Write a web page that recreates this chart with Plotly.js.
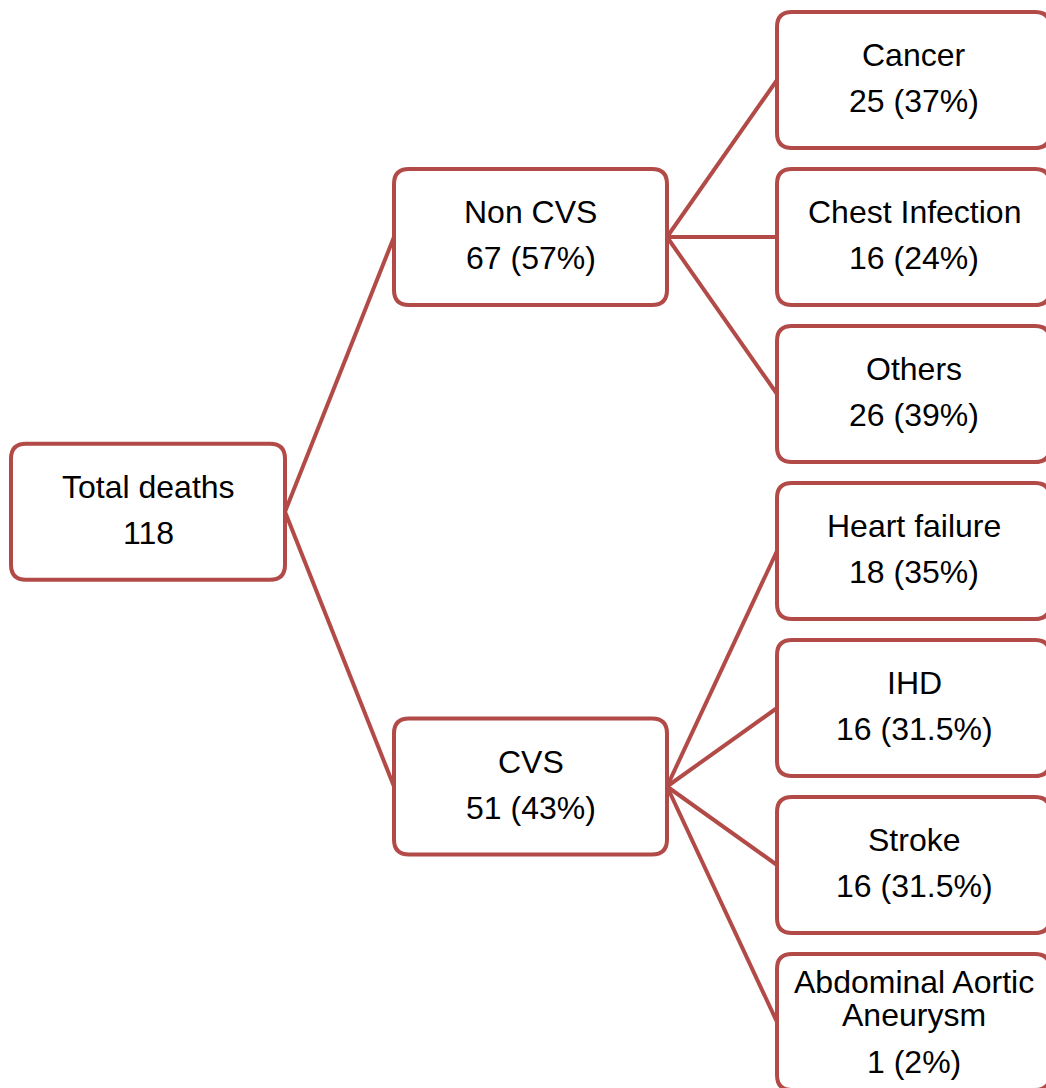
<!DOCTYPE html>
<html>
<head>
<meta charset="utf-8">
<script src="https://cdn.plot.ly/plotly-3.0.1.min.js"></script>
<style>html,body{margin:0;padding:0;background:#fff;}#chart{width:1046px;height:1088px;}</style>
</head>
<body>
<div id="chart"></div>
<script>
// ---- data ----
const rootLabel = "Total deaths";
const rootCount = 118;
const groupLabels = ["Non CVS", "CVS"];
const groupCounts = [67, 51];
const groupPcts = ["57%", "43%"];
const causeLabels = ["Cancer", "Chest Infection", "Others", "Heart failure", "IHD", "Stroke", "Abdominal Aortic<br>Aneurysm"];
const causeCounts = [25, 16, 26, 18, 16, 16, 1];
const causePcts = ["37%", "24%", "39%", "35%", "31.5%", "31.5%", "2%"];
const causeParent = [0, 0, 0, 1, 1, 1, 1];

// ---- layout geometry ----
const W = 1046, H = 1088;
const colX = [[11, 285], [394, 667], [777, 1050]];
const boxH = 136;
const leafTop = 80, leafPitch = 157;
const radius = 15;
const red = "#B24B48";
const fontSize = 32;
const upOff = -25, downOff = 21, wrapGap = 33;

const leafY = causeLabels.map((_, i) => leafTop + i * leafPitch);
const groupY = groupLabels.map((_, g) => {
  const ys = leafY.filter((_, i) => causeParent[i] === g);
  return ys.reduce((a, b) => a + b, 0) / ys.length;
});
const rootY = groupY.reduce((a, b) => a + b, 0) / groupY.length;

function rr(x0, y0, x1, y1, r) {
  return `M${x0 + r},${y0} L${x1 - r},${y0} Q${x1},${y0} ${x1},${y0 + r} L${x1},${y1 - r} Q${x1},${y1} ${x1 - r},${y1} L${x0 + r},${y1} Q${x0},${y1} ${x0},${y1 - r} L${x0},${y0 + r} Q${x0},${y0} ${x0 + r},${y0} Z`;
}

const shapes = [];
const annotations = [];
function addNode(level, cy, lines) {
  const [x0, x1] = colX[level];
  shapes.push({type: "path", xref: "x", yref: "y", path: rr(x0, cy - boxH / 2, x1, cy + boxH / 2, radius),
    line: {color: red, width: 4}, fillcolor: "rgba(255,255,255,0)", layer: "above"});
  const cx = (x0 + x1) / 2 + (level === 2 ? 0.5 : 0);
  const labelParts = lines[0].split("<br>");
  const n = labelParts.length;
  let ys = [];
  if (n === 1) { ys = [cy + upOff, cy + downOff]; }
  else {
    const first = cy - 40;
    for (let k = 0; k < n; k++) ys.push(first + k * wrapGap);
    ys.push(ys[n - 1] + 47);
  }
  const texts = labelParts.concat([lines[1]]);
  texts.forEach((t, k) => {
    annotations.push({x: cx, y: ys[k], xref: "x", yref: "y", text: t, showarrow: false,
      xanchor: "center", yanchor: "middle",
      font: {family: "Liberation Sans, Arial, sans-serif", size: fontSize, color: "#000"}});
  });
}

addNode(0, rootY, [rootLabel, String(rootCount)]);
groupLabels.forEach((g, i) => addNode(1, groupY[i], [g, `${groupCounts[i]} (${groupPcts[i]})`]));
causeLabels.forEach((c, i) => addNode(2, leafY[i], [c, `${causeCounts[i]} (${causePcts[i]})`]));

// connectors
const lx = [], ly = [];
groupY.forEach(gy => { lx.push(colX[0][1], colX[1][0], null); ly.push(rootY, gy, null); });
leafY.forEach((y, i) => { lx.push(colX[1][1], colX[2][0], null); ly.push(groupY[causeParent[i]], y, null); });

const data = [{x: lx, y: ly, type: "scatter", mode: "lines", line: {color: red, width: 4}, hoverinfo: "skip", showlegend: false}];

const layout = {
  width: W, height: H,
  margin: {l: 0, r: 0, t: 0, b: 0},
  paper_bgcolor: "#fff", plot_bgcolor: "#fff",
  xaxis: {range: [0, W], visible: false, fixedrange: true},
  yaxis: {range: [H, 0], visible: false, fixedrange: true},
  shapes, annotations, showlegend: false
};
Plotly.newPlot("chart", data, layout, {displayModeBar: false, staticPlot: true});
</script>
</body>
</html>
